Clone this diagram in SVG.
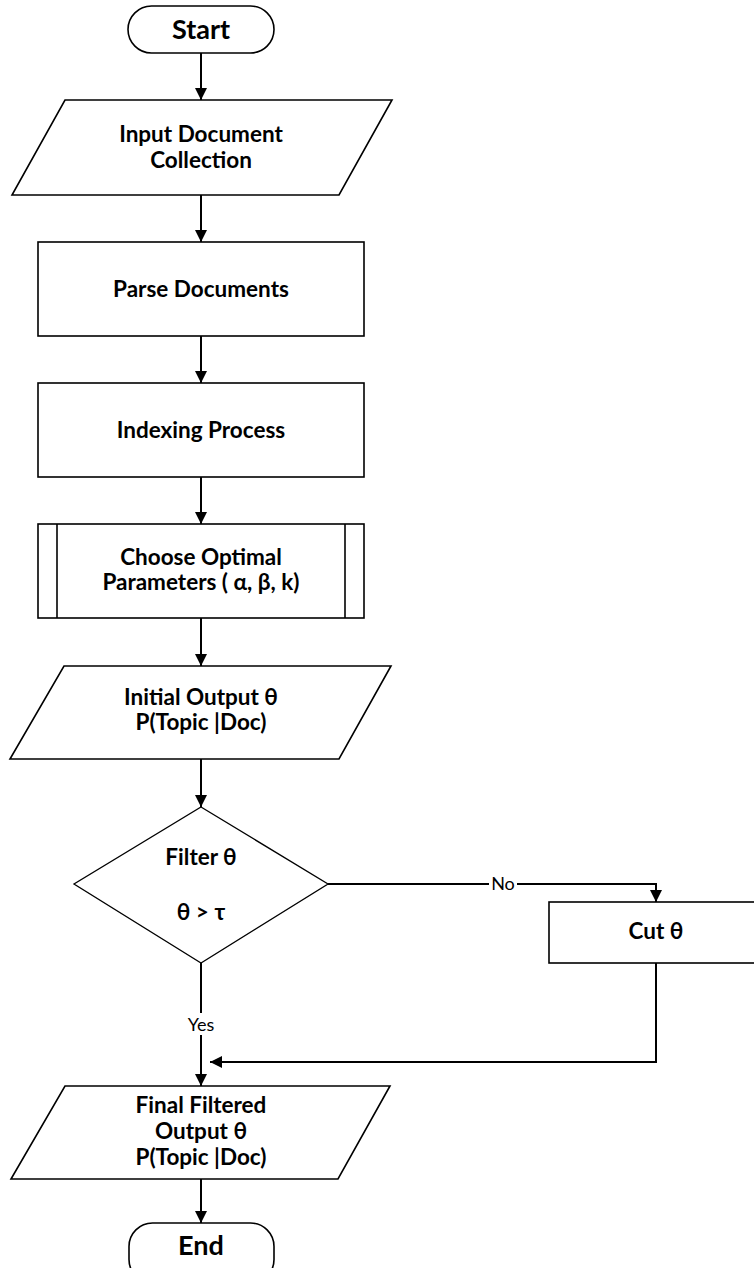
<svg xmlns="http://www.w3.org/2000/svg" width="754" height="1268" viewBox="0 0 754 1268">
<style>
.s{fill:#fff;stroke:#000;stroke-width:1.6}
.t{font-family:Lato,"Liberation Sans",sans-serif;font-weight:bold;font-size:22.5px;fill:#000;text-anchor:middle}
.big{font-size:27px}
.c{fill:none;stroke:#000;stroke-width:2}
.lbl{font-family:Lato,"Liberation Sans",sans-serif;font-size:18px;fill:#000;text-anchor:middle}
</style>
<defs>
<marker id="ah" viewBox="0 0 12 12" refX="12" refY="6" markerWidth="12" markerHeight="12" markerUnits="userSpaceOnUse" orient="auto">
<path d="M0,0 L12,6 L0,12 Z" fill="#000"/>
</marker>
</defs>
<rect width="754" height="1268" fill="#fff"/>
<g id="connectors">
<line class="c" x1="201" y1="53" x2="201" y2="100" marker-end="url(#ah)"/>
<line class="c" x1="201" y1="195" x2="201" y2="242" marker-end="url(#ah)"/>
<line class="c" x1="201" y1="336" x2="201" y2="383" marker-end="url(#ah)"/>
<line class="c" x1="201" y1="477" x2="201" y2="524" marker-end="url(#ah)"/>
<line class="c" x1="201" y1="618" x2="201" y2="666" marker-end="url(#ah)"/>
<line class="c" x1="201" y1="759" x2="201" y2="807" marker-end="url(#ah)"/>
<polyline class="c" points="328,884 656,884 656,902" marker-end="url(#ah)"/>
<line class="c" x1="201" y1="963" x2="201" y2="1086" marker-end="url(#ah)"/>
<polyline class="c" points="656,963 656,1062 210,1062" marker-end="url(#ah)"/>
<line class="c" x1="201" y1="1179" x2="201" y2="1223" marker-end="url(#ah)"/>
<rect x="489" y="874" width="28" height="20" fill="#fff"/>
<text class="lbl" x="503" y="890">No</text>
<rect x="184" y="1013" width="34" height="22" fill="#fff"/>
<text class="lbl" x="201" y="1031">Yes</text>
</g>
<g id="start">
<rect class="s" x="128" y="6" width="146" height="47" rx="23.5"/>
<text class="t big" x="201" y="39">Start</text>
</g>
<g id="input">
<polygon class="s" points="65,100 392,100 339,195 12,195"/>
<text class="t" x="201" y="142">Input Document</text>
<text class="t" x="201" y="168">Collection</text>
</g>
<g id="parse">
<rect class="s" x="38" y="242" width="326" height="94"/>
<text class="t" x="201" y="297">Parse Documents</text>
</g>
<g id="indexing">
<rect class="s" x="38" y="383" width="326" height="94"/>
<text class="t" x="201" y="438">Indexing Process</text>
</g>
<g id="choose">
<rect class="s" x="38" y="524" width="326" height="94"/>
<line class="s" x1="57" y1="524" x2="57" y2="618"/>
<line class="s" x1="345" y1="524" x2="345" y2="618"/>
<text class="t" x="201" y="565">Choose Optimal</text>
<text class="t" x="201" y="590">Parameters ( α, β, k)</text>
</g>
<g id="initial">
<polygon class="s" points="64,666 391,666 339,759 10,759"/>
<text class="t" x="201" y="705">Initial Output θ</text>
<text class="t" x="201" y="730">P(Topic |Doc)</text>
</g>
<g id="filter">
<polygon class="s" points="201,807 328,884 201,963 74,884" style="stroke-width:1.3"/>
<text class="t" x="201" y="865">Filter θ</text>
<text class="t" x="201" y="920">θ &gt; τ</text>
</g>
<g id="cut">
<rect class="s" x="549" y="902" width="212" height="61"/>
<text class="t" x="656" y="939">Cut θ</text>
</g>
<g id="final">
<polygon class="s" points="65,1086 390,1086 338,1179 11,1179"/>
<text class="t" x="201" y="1113">Final Filtered</text>
<text class="t" x="201" y="1139">Output θ</text>
<text class="t" x="201" y="1165">P(Topic |Doc)</text>
</g>
<g id="end">
<rect class="s" x="129" y="1223" width="145" height="60" rx="23.5"/>
<text class="t big" x="201" y="1255">End</text>
</g>
</svg>
